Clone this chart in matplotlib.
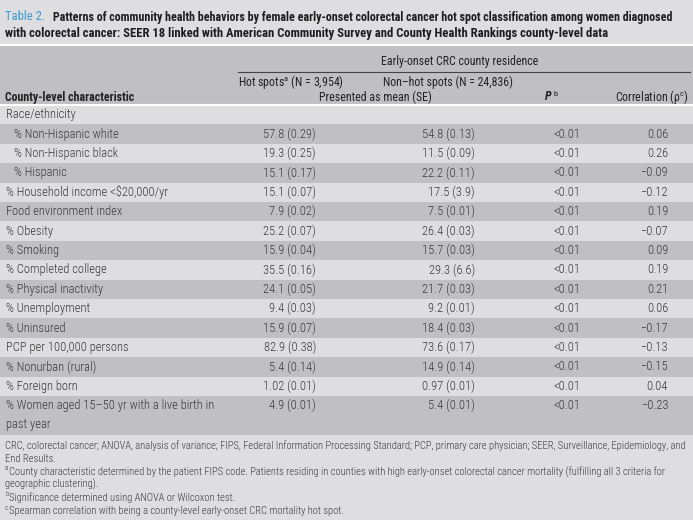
import matplotlib
matplotlib.use('Agg')
import matplotlib.pyplot as plt
from matplotlib.patches import Rectangle

FONT = ['Roboto Condensed', 'Liberation Sans', 'DejaVu Sans']
plt.rcParams['font.family'] = FONT
plt.rcParams['mathtext.fontset'] = 'custom'
plt.rcParams['mathtext.rm'] = 'Roboto Condensed'
plt.rcParams['mathtext.it'] = 'Roboto Condensed:italic'
plt.rcParams['mathtext.bf'] = 'Roboto Condensed:bold'

# table content
row_labels = [
    'Race/ethnicity',
    '% Non-Hispanic white',
    '% Non-Hispanic black',
    '% Hispanic',
    '% Household income <$20,000/yr',
    'Food environment index',
    '% Obesity',
    '% Smoking',
    '% Completed college',
    '% Physical inactivity',
    '% Unemployment',
    '% Uninsured',
    'PCP per 100,000 persons',
    '% Nonurban (rural)',
    '% Foreign born',
    '% Women aged 15\u201350 yr with a live birth in\npast year',
]
indented = [False, True, True, True] + [False] * 12
hot_spots = ['', '57.8 (0.29)', '19.3 (0.25)', '15.1 (0.17)', '15.1 (0.07)', '7.9 (0.02)',
             '25.2 (0.07)', '15.9 (0.04)', '35.5 (0.16)', '24.1 (0.05)', '9.4 (0.03)',
             '15.9 (0.07)', '82.9 (0.38)', '5.4 (0.14)', '1.02 (0.01)', '4.9 (0.01)']
non_hot_spots = ['', '54.8 (0.13)', '11.5 (0.09)', '22.2 (0.11)', '17.5 (3.9)', '7.5 (0.01)',
                 '26.4 (0.03)', '15.7 (0.03)', '29.3 (6.6)', '21.7 (0.03)', '9.2 (0.01)',
                 '18.4 (0.03)', '73.6 (0.17)', '14.9 (0.14)', '0.97 (0.01)', '5.4 (0.01)']
p_values = [''] + ['<0.01'] * 15
correlation = [None, 0.06, 0.26, -0.09, -0.12, 0.19, -0.07, 0.09, 0.19, 0.21, 0.06,
               -0.17, -0.13, -0.15, 0.04, -0.23]

title_lines = [
    'Patterns of community health behaviors by female early-onset colorectal cancer hot spot classification among women diagnosed',
    'with colorectal cancer: SEER 18 linked with American Community Survey and County Health Rankings county-level data',
]
# (superscript mark, text)
footnotes = [
    ('', 'CRC, colorectal cancer; ANOVA, analysis of variance; FIPS, Federal Information Processing Standard; PCP, primary care physician; SEER, Surveillance, Epidemiology, and'),
    ('', 'End Results.'),
    ('a', 'County characteristic determined by the patient FIPS code. Patients residing in counties with high early-onset colorectal cancer mortality (fulfilling all 3 criteria for'),
    ('', 'geographic clustering).'),
    ('b', 'Significance determined using ANOVA or Wilcoxon test.'),
    ('c', 'Spearman correlation with being a county-level early-onset CRC mortality hot spot.'),
]

LIGHT = '#dedee0'
DARK = '#c0c0c2'
TXT = '#3a3a3a'
BLUE = '#3a9ad4'

fig = plt.figure(figsize=(6.93, 5.2), dpi=100)
fig.patch.set_facecolor(LIGHT)
ax = fig.add_axes([0, 0, 1, 1])
ax.set_xlim(0, 693)
ax.set_ylim(520, 0)
ax.axis('off')

# header block
ax.add_patch(Rectangle((0, 45), 693, 59, facecolor=DARK, edgecolor='none'))
ax.plot([0, 693], [44.5, 44.5], color='white', lw=1.5)
ax.plot([0, 693], [104.5, 104.5], color='white', lw=1.5)

# title
ax.text(5, 17, 'Table 2.', color=BLUE, fontsize=9.1, va='center', ha='left')
ax.text(53, 17, title_lines[0], color='#1e1e1e', fontsize=8.65, fontweight='bold',
        va='center', ha='left')
ax.text(5, 33, title_lines[1], color='#1e1e1e', fontsize=9.1, fontweight='bold',
        va='center', ha='left')

# column header
hdr = dict(color='#222222', fontsize=8.6, va='center')
ax.text(460, 62, 'Early-onset CRC county residence', ha='center', **hdr)
ax.plot([238, 690], [71.5, 71.5], color='#444444', lw=0.8)
ax.text(238, 82, 'Hot spots$^{\\mathrm{a}}$ (N = 3,954)', ha='left', **hdr)
ax.text(383, 82, 'Non\u2013hot spots (N = 24,836)', ha='left', **hdr)
ax.text(375, 97, 'Presented as mean (SE)', ha='center', **hdr)
ax.text(5, 98, 'County-level characteristic', ha='left', fontweight='bold', **hdr)
ax.text(545, 97, 'P', ha='left', fontweight='bold', style='italic', **hdr)
ax.text(553, 94, 'b', ha='left', color='#222222', fontsize=6, va='center')
ax.text(689, 97, 'Correlation (\u03c1$^{\\mathrm{c}}$)', ha='right', **hdr)

# body rows
row_h = 19.4
y0 = 105
cell = dict(color=TXT, fontsize=9, va='center', fontweight='light')
for i, lab in enumerate(row_labels):
    n_lines = lab.count('\n') + 1
    h = row_h * n_lines
    top = y0
    ax.add_patch(Rectangle((0, top), 693, h, facecolor=DARK if i % 2 else LIGHT,
                           edgecolor='none'))
    yc = top + row_h / 2
    x = 14 if indented[i] else 6
    ax.text(x, top + h / 2, lab, ha='left', linespacing=1.6, parse_math=False, **cell)
    ax.text(316, yc, hot_spots[i], ha='right', **cell)
    ax.text(475, yc, non_hot_spots[i], ha='right', **cell)
    ax.text(567, yc, p_values[i], ha='center', **cell)
    if correlation[i] is not None:
        ax.text(668, yc, f'{correlation[i]:.2f}'.replace('-', '\u2212'), ha='right', **cell)
    y0 += h

# footnotes
fy = [446, 459, 472, 484.5, 498, 511]
for y, (mark, line) in zip(fy, footnotes):
    x = 5
    if mark:
        ax.text(5, y - 3, mark, color=TXT, fontsize=5.2, va='center', ha='left',
                fontweight='light')
        x = 9
    ax.text(x, y, line, color=TXT, fontsize=7.6, va='center', ha='left', fontweight='light')

fig.savefig('out.png', dpi=100, facecolor=fig.get_facecolor())
